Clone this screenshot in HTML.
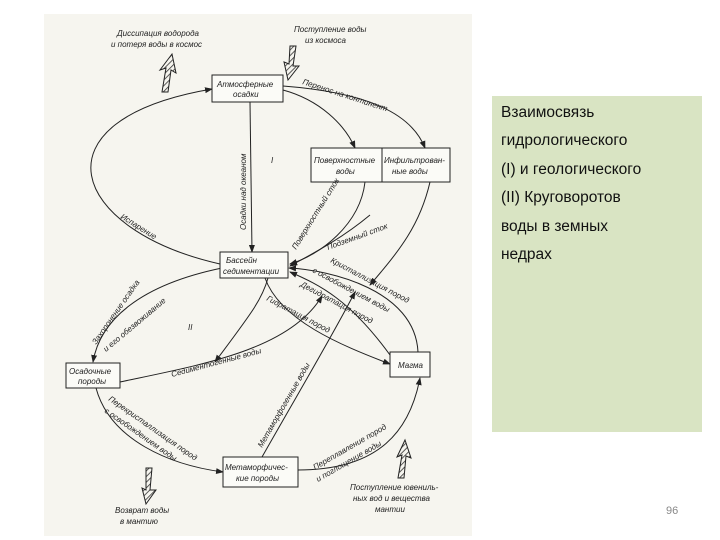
<!DOCTYPE html>
<html><head><meta charset="utf-8"><style>
body{margin:0;width:720px;height:540px;background:#fff;position:relative;overflow:hidden;font-family:"Liberation Sans",sans-serif}
.scan{position:absolute;left:44px;top:14px;width:428px;height:522px;background:#f6f5ef}
.box{position:absolute;left:492px;top:96px;width:210px;height:336px;background:#d9e4c3}
.box p{margin:0;padding:3px 0 0 9px;font-family:"Liberation Sans","DejaVu Sans",sans-serif;font-size:15.5px;line-height:28.4px;color:#111}
.num{position:absolute;left:666px;top:505px;font-size:11px;color:#888}
svg{position:absolute;left:0;top:0}
svg text{font-family:"Liberation Sans",sans-serif;font-style:italic;font-size:8px;fill:#222}
</style></head><body>
<div class="scan"></div>
<div class="box"><p>Взаимосвязь<br>гидрологического<br>(I) и геологического<br>(II) Круговоротов<br>воды в земных<br>недрах</p></div>
<div class="num">96</div>
<svg width="720" height="540" viewBox="0 0 720 540">
<defs>
<marker id="a" markerWidth="8" markerHeight="6" refX="7" refY="3" orient="auto" markerUnits="userSpaceOnUse"><path d="M0,0 L8,3 L0,6z" fill="#222"/></marker>
<pattern id="h" width="4" height="4" patternUnits="userSpaceOnUse" patternTransform="rotate(45)"><rect width="4" height="4" fill="#f6f5ef"/><line x1="0" y1="0" x2="0" y2="4" stroke="#333" stroke-width="1.6"/></pattern>
</defs>
<g fill="none" stroke="#222" stroke-width="1" marker-end="url(#a)">
<path d="M220,264 C70,230 30,120 212,89"/>
<path d="M283,86 C360,92 410,110 425,148"/>
<path d="M283,90 C320,100 345,125 355,148"/>
<path d="M250,102 L252,252"/>
<path d="M365,182 C360,225 320,255 290,264"/>
<path d="M430,182 C420,225 400,250 370,285"/>
<path d="M370,215 C340,240 310,255 290,266"/>
<path d="M222,268 C140,285 100,320 93,362"/>
<path d="M96,388 C110,440 170,465 223,472"/>
<path d="M298,470 C380,470 410,430 420,378"/>
<path d="M418,352 C415,290 330,270 289,268"/>
<path d="M265,278 C280,320 340,345 390,364"/>
<path d="M120,382 C200,365 290,350 322,296"/>
<path d="M262,457 C300,390 330,340 355,292"/>
<path d="M268,278 C262,300 250,315 215,362"/>
<path d="M390,355 C350,300 320,285 290,272"/>
</g>
<g stroke="#222" stroke-width="1">
<path d="M162,92 L166,68 L160,70 L172,54 L176,73 L171,70 L168,92z" fill="url(#h)"/>
<path d="M290,46 L296,46 L293,66 L299,66 L288,80 L284,62 L289,64z" fill="url(#h)"/>
<path d="M146,468 L152,468 L150,490 L156,490 L146,504 L142,488 L146,490z" fill="url(#h)"/>
<path d="M398,478 L402,455 L397,457 L405,440 L411,458 L406,456 L404,478z" fill="url(#h)"/>
</g>
<g fill="#fbfbf7" stroke="#222" stroke-width="1">
<rect x="212" y="75" width="71" height="27"/>
<rect x="311" y="148" width="71" height="34"/>
<rect x="382" y="148" width="68" height="34"/>
<rect x="220" y="252" width="68" height="26"/>
<rect x="66" y="363" width="54" height="25"/>
<rect x="390" y="352" width="40" height="25"/>
<rect x="223" y="457" width="75" height="30"/>
</g>
<text x="217" y="87">Атмосферные</text><text x="233" y="97">осадки</text>
<text x="314" y="163">Поверхностные</text><text x="336" y="174">воды</text>
<text x="384" y="163">Инфильтрован-</text><text x="392" y="174">ные воды</text>
<text x="226" y="263">Бассейн</text><text x="223" y="274">седиментации</text>
<text x="69" y="374">Осадочные</text><text x="78" y="384">породы</text>
<text x="398" y="368">Магма</text>
<text x="225" y="470">Метаморфичес-</text><text x="236" y="481">кие породы</text>
<text x="117" y="36">Диссипация водорода</text><text x="111" y="47">и потеря воды в космос</text>
<text x="294" y="32">Поступление воды</text><text x="305" y="43">из космоса</text>
<text x="115" y="513">Возврат воды</text><text x="120" y="524">в мантию</text>
<text x="350" y="490">Поступление ювениль-</text><text x="353" y="501">ных вод и вещества</text><text x="375" y="512">мантии</text>
<text x="271" y="163">I</text><text x="188" y="330">II</text>
<text transform="translate(302,84) rotate(18)">Перенос на континент</text>
<text transform="translate(246,230) rotate(-90)">Осадки над океаном</text>
<text transform="translate(120,218) rotate(32)">Испарение</text>
<text transform="translate(296,250) rotate(-58)">Поверхностный сток</text>
<text transform="translate(328,250) rotate(-20)">Подземный сток</text>
<text transform="translate(330,262) rotate(28)">Кристаллизация пород</text>
<text transform="translate(312,272) rotate(28)">с освобождением воды</text>
<text transform="translate(300,286) rotate(28)">Дегидратация пород</text>
<text transform="translate(266,300) rotate(28)">Гидратация пород</text>
<text transform="translate(96,345) rotate(-55)">Захоронение осадка</text>
<text transform="translate(106,352) rotate(-40)">и его обезвоживание</text>
<text transform="translate(172,377) rotate(-15)">Седиментогенные воды</text>
<text transform="translate(262,448) rotate(-60)">Метаморфогенные воды</text>
<text transform="translate(108,400) rotate(35)">Перекристаллизация пород</text>
<text transform="translate(104,412) rotate(35)">с освобождением воды</text>
<text transform="translate(315,470) rotate(-30)">Переплавление пород</text>
<text transform="translate(318,482) rotate(-30)">и поглощение воды</text>
</svg>
</body></html>
